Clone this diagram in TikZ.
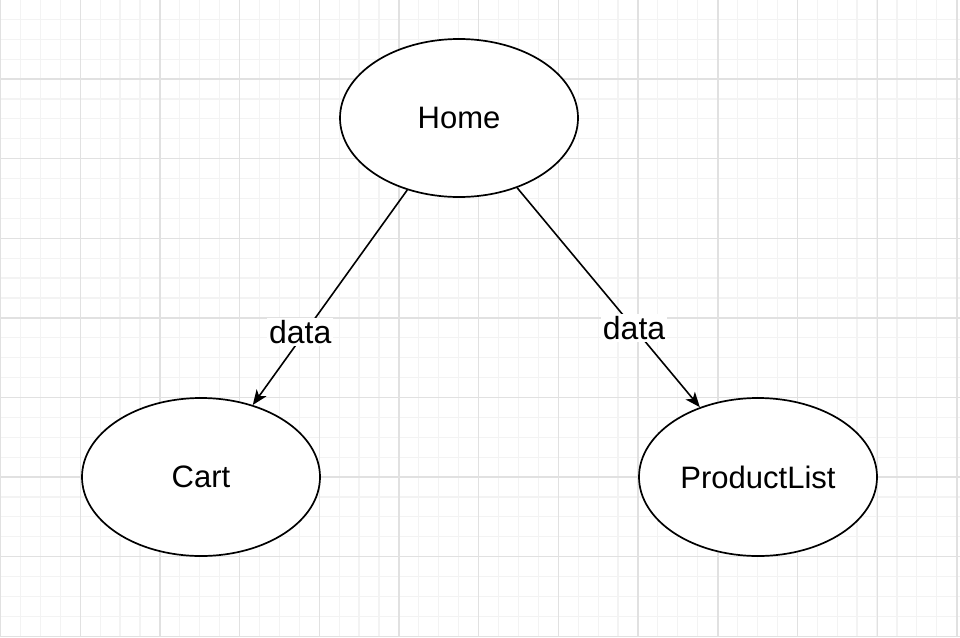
\documentclass[tikz,border=0pt]{standalone}
\usepackage{fontspec}
\setmainfont{Liberation Sans}
\usetikzlibrary{shapes.geometric,arrows.meta}

\definecolor{minorgrid}{RGB}{243,243,243}
\definecolor{majorgrid}{RGB}{225,225,225}

\tikzset{
  comp/.style={ellipse,draw=black,line width=1.7pt,fill=white,
    minimum width=238pt,minimum height=158pt,inner sep=0pt,
    font=\fontsize{31}{36}\selectfont},
  flow/.style={line width=1.6pt,-{Stealth[length=15pt,width=12pt,inset=4pt]}},
  flowlabel/.style={fill=white,inner sep=2pt,font=\fontsize{32}{36}\selectfont}
}

\begin{document}
\begin{tikzpicture}[x=1pt,y=-1pt]
    \useasboundingbox (0,0) rectangle (960,637);

    % background grid
    \foreach \k in {0,...,48}
        \draw[minorgrid,line width=1.2pt] ({0.5+19.92*\k},0) -- ({0.5+19.92*\k},637);
    \foreach \k in {0,...,32}
        \draw[minorgrid,line width=1.2pt] (0,{-0.6+19.9*\k}) -- (960,{-0.6+19.9*\k});
    \foreach \k in {0,...,12}
        \draw[majorgrid,line width=1.4pt] ({0.5+79.7*\k},0) -- ({0.5+79.7*\k},637);
    \foreach \k in {1,...,8}
        \draw[majorgrid,line width=1.4pt] (0,{-0.6+79.6*\k}) -- (960,{-0.6+79.6*\k});

    % components
    \node[comp] (home) at (459,118) {Home};
    \node[comp] (cart) at (201,477) {Cart};
    \node[comp] (productlist) at (758,477) {ProductList};

    % data flow
    \draw[flow] (home) -- node[flowlabel,pos=0.66,xshift=-5pt] {data} (cart);
    \draw[flow] (home) -- node[flowlabel,pos=0.64] {data} (productlist);
\end{tikzpicture}
\end{document}
